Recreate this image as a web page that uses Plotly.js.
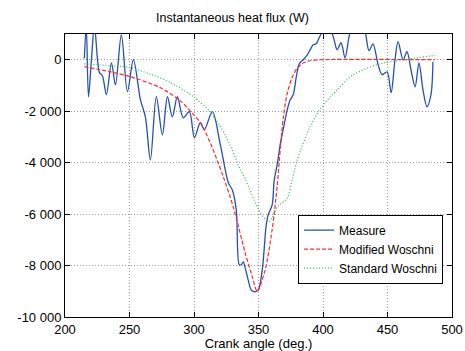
<!DOCTYPE html>
<html><head><meta charset="utf-8">
<script src="https://cdn.plot.ly/plotly-3.0.1.min.js"></script>
<style>html,body{margin:0;padding:0;background:#fff}#chart{width:465px;height:351px}</style>
</head><body><div id="chart"></div>
<script>
const measureX = [215,216.5,218.2,220.5,222.8,225.2,226.7,229,232.1,236,239.1,243.7,248.4,253,258.5,262.3,266.2,270.8,275.5,279.4,283.2,287.1,291.7,296.4,300.3,304.9,308,314.2,320.4,326.6,329.7,332.8,335.1,336.6,338.2,339.7,342,344.4,347.5,349.8,352.9,356,357.5,360.6,362.2,364.5,366.8,369.1,372.3,374.6,376.9,379.2,381.6,384.7,387.8,390.1,392.4,394.7,397.8,400.9,402.4,405.5,408.6,410.9,414,417.1,421,424.9,429.5,432.6,435.7,438.8,442.7,445.8,449.7,452.8,455.8,458.2,462.1,465.1,468.2,471.4,474.4,477.5,480.6,483.7,485.2];
const measureY = [50,1300,-1440,0,1350,0,-500,-620,-1360,-120,-970,970,-1240,0,-1560,-2220,-3890,-1440,-2920,-1440,-2220,-1440,-2260,-2020,-3030,-2450,-2720,-2020,-3300,-4780,-5060,-5840,-7970,-7970,-7860,-8090,-8560,-8950,-9020,-8950,-8170,-6420,-6030,-5640,-4670,-4080,-3300,-2720,-1940,-1560,-1360,-700,-160,0,190,390,580,620,930,1170,1010,1170,780,390,660,80,1050,1360,1360,1090,350,620,-190,-580,-470,-1280,0,700,0,310,-390,-1050,-120,-1170,-1830,-1360,-80];
const modX = [215,235,250.7,273.9,289.4,300,305,312.6,322.7,330.4,339.7,345.2,349,355,360.6,364.5,367,369.3,372.3,376,380,385,390,398,487];
const modY = [-270,-470,-660,-1090,-1600,-2150,-2450,-3230,-4550,-5720,-7510,-8440,-9000,-8200,-6600,-4900,-3400,-2200,-1300,-700,-330,-120,-40,0,0];
const stdX = [215,235,250.7,265,281.7,299.5,312,325,336,340,349,355,358,360.6,364.5,372,376,380,390,398,411,423,442,462,487];
const stdY = [-160,-230,-310,-540,-890,-1440,-2000,-3000,-4280,-4670,-5720,-6200,-6280,-6150,-5720,-5400,-4700,-3900,-2600,-1900,-1170,-600,-190,0,170];
const xTicks = [200,250,300,350,400,450,500];
const yTicks = [-10000,-8000,-6000,-4000,-2000,0];
const yTickText = ["-10 000","-8 000","-6 000","-4 000","-2 000","0"];
const seriesNames = ["Measure","Modified Woschni","Standard Woschni"];

const traces = [
  {x: measureX, y: measureY, name: seriesNames[0], mode:'lines', line:{color:'#2550b0', width:1.3, shape:'spline', smoothing:0.9}},
  {x: modX, y: modY, name: seriesNames[1], mode:'lines', line:{color:'#ff2a2a', width:1.2, dash:'4px,2px', shape:'spline', smoothing:0.8}},
  {x: stdX, y: stdY, name: seriesNames[2], mode:'lines', line:{color:'#22bb44', width:1.2, dash:'1px,2px', shape:'spline', smoothing:0.8}}
];
const axisCommon = {showline:true, linecolor:'#000', linewidth:1, mirror:'allticks', ticks:'inside', ticklen:5, tickcolor:'#000',
  showgrid:true, gridcolor:'#999', griddash:'1px,2px', gridwidth:1, zeroline:false, tickfont:{family:'Liberation Sans, Arial, sans-serif', size:13, color:'#000'}};
const layout = {
  width:465, height:351,
  margin:{l:64.5, r:13, t:34, b:34},
  paper_bgcolor:'#fff', plot_bgcolor:'#fff',
  title:{text:'Instantaneous heat flux (W)', font:{family:'Liberation Sans, Arial, sans-serif', size:12.5, color:'#000'}, x:0.5, xanchor:'center', y:0.95, yanchor:'middle'},
  xaxis: Object.assign({}, axisCommon, {range:[200,500], tickvals:xTicks, ticktext:xTicks.map(String),
    title:{text:'Crank angle (deg.)', standoff:0, font:{family:'Liberation Sans, Arial, sans-serif', size:13, color:'#000'}}}),
  yaxis: Object.assign({}, axisCommon, {range:[-10000,1000], tickvals:yTicks, ticktext:yTickText}),
  showlegend:true,
  legend:{x:0.977, xanchor:'right', y:0.362, yanchor:'top', bgcolor:'#fff', bordercolor:'#000', borderwidth:1,
    font:{family:'Liberation Sans, Arial, sans-serif', size:12, color:'#000'}, tracegroupgap:0, itemwidth:30},
};
Plotly.newPlot('chart', traces, layout, {displayModeBar:false, staticPlot:true});
</script></body></html>
